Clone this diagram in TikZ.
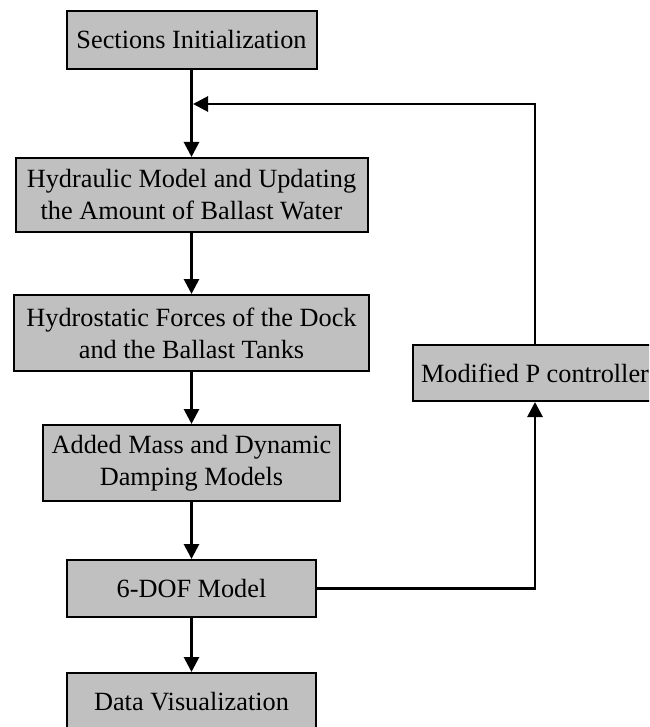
\documentclass[tikz,border=0pt]{standalone}
\usepackage{fontspec}
\setmainfont{Liberation Serif}
\usepackage{tikz}
\usetikzlibrary{arrows.meta}

\definecolor{boxgray}{RGB}{192,192,192}

\tikzset{
    procbox/.style={draw=black, line width=1pt, fill=boxgray, inner sep=0pt,
        align=center, font=\fontsize{13.15}{16}\selectfont},
    flowline/.style={line width=1.4pt},
    flowarrow/.style={flowline, -{Triangle[width=7.5pt,length=7.5pt]}}
}

\begin{document}
\begin{tikzpicture}[x=0.5pt,y=-0.5pt]
            \useasboundingbox (0,0) rectangle (649,727);
            \clip (0,0) rectangle (649,727);

            % main chain
            \node[procbox, minimum width=125pt, minimum height=29pt] (init) at (191.5,40) {Sections Initialization};
            \node[procbox, minimum width=176pt, minimum height=37pt] (hydraulic) at (191.5,195) {Hydraulic Model and Updating\\the Amount of Ballast Water};
            \node[procbox, minimum width=177.5pt, minimum height=38pt] (hydrostatic) at (191.5,333) {Hydrostatic Forces of the Dock\\and the Ballast Tanks};
            \node[procbox, minimum width=148.5pt, minimum height=38pt] (addedmass) at (191.5,463) {Added Mass and Dynamic\\Damping Models};
            \node[procbox, minimum width=124.5pt, minimum height=28.5pt] (sixdof) at (191.5,588.5) {6-DOF Model};
            \node[procbox, minimum width=124.5pt, minimum height=28.5pt] (datavis) at (191.5,701.5) {Data Visualization};

            % controller
            \node[procbox, minimum width=122pt, minimum height=28pt] (controller) at (535,373) {Modified P controller};
            \coordinate (merge) at (193,104);

            \draw[flowarrow] (init) -- (hydraulic);
            \draw[flowarrow] (hydraulic) -- (hydrostatic);
            \draw[flowarrow] (hydrostatic) -- (addedmass);
            \draw[flowarrow] (addedmass) -- (sixdof);
            \draw[flowarrow] (sixdof) -- (datavis);

            % feedback loop
            \draw[flowarrow] (sixdof.east) -| (controller.south);
            \draw[flowarrow] (controller.north) |- (merge);
        \end{tikzpicture}
\end{document}
